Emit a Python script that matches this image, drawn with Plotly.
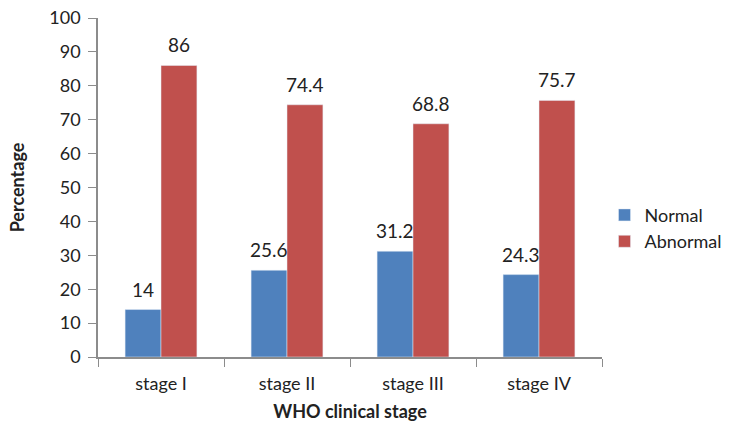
import plotly.graph_objects as go

categories = ["stage I", "stage II", "stage III", "stage IV"]
normal = [14, 25.6, 31.2, 24.3]
abnormal = [86, 74.4, 68.8, 75.7]
normal_labels = ["14", "25.6", "31.2", "24.3"]
abnormal_labels = ["86", "74.4", "68.8", "75.7"]

fig = go.Figure()
fig.add_trace(go.Bar(x=categories, y=normal, name="Normal", marker_color="#4F81BD"))
fig.add_trace(go.Bar(x=categories, y=abnormal, name="Abnormal", marker_color="#C0504D"))

lab_font = dict(family="Lato", size=19, color="#222")
for cat, v, t in zip(categories, normal, normal_labels):
    fig.add_annotation(x=cat, y=v, text=t, showarrow=False, yanchor="bottom",
                       xshift=-18, yshift=7, font=lab_font)
for cat, v, t in zip(categories, abnormal, abnormal_labels):
    fig.add_annotation(x=cat, y=v, text=t, showarrow=False, yanchor="bottom",
                       xshift=18, yshift=7, font=lab_font)

fig.update_layout(
    width=735, height=436,
    margin=dict(l=98, r=133, t=18, b=79, autoexpand=False),
    plot_bgcolor="white", paper_bgcolor="white",
    barmode="group", bargap=0.43, bargroupgap=0,
    font=dict(family="Lato", size=18, color="#222"),
    legend=dict(x=1.005, y=0.38, yanchor="middle", xanchor="left",
                font=dict(family="Lato", size=18, color="#222"),
                tracegroupgap=2, itemwidth=30),
    xaxis=dict(showline=True, linecolor="#8c8c8c", linewidth=1.5, automargin=False,
               ticks="outside", tickson="boundaries", ticklen=8, tickcolor="#8c8c8c",
               ticklabelstandoff=10,
               tickfont=dict(family="Lato", size=18),
               title=dict(text="<b>WHO clinical stage</b>", font=dict(family="Lato", size=18), standoff=12)),
    yaxis=dict(range=[0, 100], dtick=10, showline=True, linecolor="#8c8c8c", linewidth=1.5, automargin=False,
               ticks="outside", ticklen=8, tickcolor="#8c8c8c", showgrid=False, zeroline=False,
               ticklabelstandoff=4,
               tickfont=dict(family="Lato", size=18),
               title=dict(text="<b>Percentage</b>", font=dict(family="Lato", size=18), standoff=20)),
)

fig.write_html("out.html", config={"displayModeBar": False},
               post_script="document.body.style.margin='0';")
